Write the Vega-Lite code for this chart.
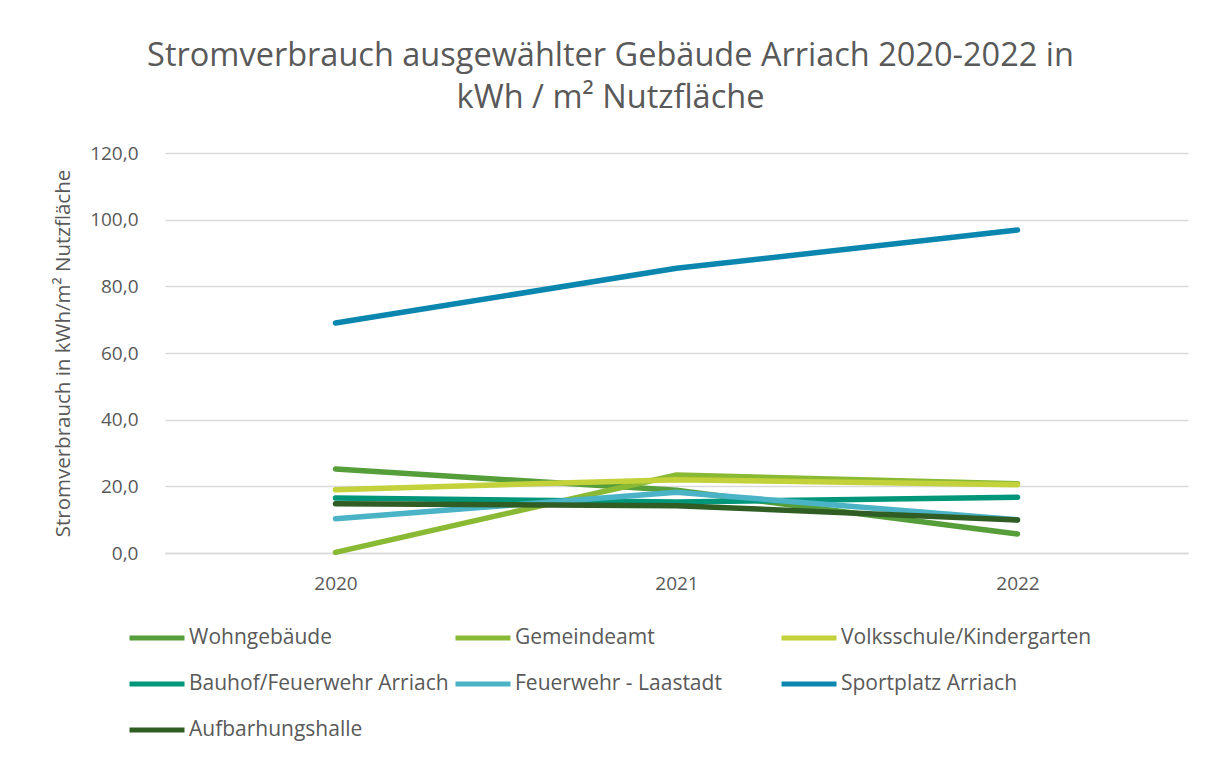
{
  "$schema": "https://vega.github.io/schema/vega-lite/v6.json",
  "width": 1023,
  "height": 400,
  "autosize": {"type": "none"},
  "padding": {"left": 165, "top": 153, "right": 25, "bottom": 205},
  "background": "white",
  "title": {
    "text": ["Stromverbrauch ausgewählter Gebäude Arriach 2020-2022 in", "kWh / m² Nutzfläche"],
    "font": "Open Sans",
    "fontSize": 32.5,
    "fontWeight": "normal",
    "color": "#595959",
    "anchor": "middle",
    "frame": "group",
    "dx": -66,
    "lineHeight": 42,
    "offset": 30
  },
  "data": {
    "values": [
      {"Jahr": "2020", "Gebäude": "Wohngebäude", "Wert": 25.2},
      {"Jahr": "2021", "Gebäude": "Wohngebäude", "Wert": 18.8},
      {"Jahr": "2022", "Gebäude": "Wohngebäude", "Wert": 5.7},
      {"Jahr": "2020", "Gebäude": "Gemeindeamt", "Wert": 0.2},
      {"Jahr": "2021", "Gebäude": "Gemeindeamt", "Wert": 23.4},
      {"Jahr": "2022", "Gebäude": "Gemeindeamt", "Wert": 20.8},
      {"Jahr": "2020", "Gebäude": "Volksschule/Kindergarten", "Wert": 19.0},
      {"Jahr": "2021", "Gebäude": "Volksschule/Kindergarten", "Wert": 22.0},
      {"Jahr": "2022", "Gebäude": "Volksschule/Kindergarten", "Wert": 20.5},
      {"Jahr": "2020", "Gebäude": "Bauhof/Feuerwehr Arriach", "Wert": 16.5},
      {"Jahr": "2021", "Gebäude": "Bauhof/Feuerwehr Arriach", "Wert": 15.3},
      {"Jahr": "2022", "Gebäude": "Bauhof/Feuerwehr Arriach", "Wert": 16.7},
      {"Jahr": "2020", "Gebäude": "Feuerwehr - Laastadt", "Wert": 10.3},
      {"Jahr": "2021", "Gebäude": "Feuerwehr - Laastadt", "Wert": 18.2},
      {"Jahr": "2022", "Gebäude": "Feuerwehr - Laastadt", "Wert": 10.0},
      {"Jahr": "2020", "Gebäude": "Sportplatz Arriach", "Wert": 69.0},
      {"Jahr": "2021", "Gebäude": "Sportplatz Arriach", "Wert": 85.4},
      {"Jahr": "2022", "Gebäude": "Sportplatz Arriach", "Wert": 96.9},
      {"Jahr": "2020", "Gebäude": "Aufbarhungshalle", "Wert": 14.8},
      {"Jahr": "2021", "Gebäude": "Aufbarhungshalle", "Wert": 14.2},
      {"Jahr": "2022", "Gebäude": "Aufbarhungshalle", "Wert": 9.9}
    ]
  },
  "mark": {"type": "line", "strokeWidth": 5.5, "strokeCap": "round", "strokeJoin": "round"},
  "encoding": {
    "x": {
      "field": "Jahr",
      "type": "ordinal",
      "scale": {"type": "point", "padding": 0.5},
      "axis": {
        "title": null,
        "labelAngle": 0,
        "labelFont": "Open Sans",
        "labelFontSize": 19,
        "labelColor": "#595959",
        "labelPadding": 21,
        "ticks": false,
        "domain": true,
        "domainColor": "#D9D9D9",
        "domainWidth": 1.5,
        "grid": false
      }
    },
    "y": {
      "field": "Wert",
      "type": "quantitative",
      "scale": {"domain": [0, 120], "nice": false},
      "axis": {
        "title": "Stromverbrauch in kWh/m² Nutzfläche",
        "titleFont": "Open Sans",
        "titleFontSize": 20.5,
        "titleFontWeight": "normal",
        "titleColor": "#595959",
        "titlePadding": 16,
        "values": [0, 20, 40, 60, 80, 100, 120],
        "labelExpr": "replace(format(datum.value, '.1f'), '.', ',')",
        "labelFont": "Open Sans",
        "labelFontSize": 19,
        "labelColor": "#595959",
        "labelPadding": 27,
        "ticks": false,
        "domain": false,
        "grid": true,
        "gridColor": "#D9D9D9",
        "gridWidth": 1.5
      }
    },
    "color": {
      "field": "Gebäude",
      "type": "nominal",
      "sort": ["Wohngebäude", "Gemeindeamt", "Volksschule/Kindergarten", "Bauhof/Feuerwehr Arriach", "Feuerwehr - Laastadt", "Sportplatz Arriach", "Aufbarhungshalle"],
      "scale": {
        "domain": ["Wohngebäude", "Gemeindeamt", "Volksschule/Kindergarten", "Bauhof/Feuerwehr Arriach", "Feuerwehr - Laastadt", "Sportplatz Arriach", "Aufbarhungshalle"],
        "range": ["#569E3A", "#8AB934", "#C3D13A", "#00967A", "#4AB3C6", "#0B86AF", "#2F5D24"]
      },
      "legend": {
        "title": null,
        "orient": "none",
        "legendX": -38,
        "legendY": 455,
        "direction": "horizontal",
        "columns": 3,
        "gridAlign": "all",
        "columnPadding": -4,
        "rowPadding": 6,
        "symbolType": "stroke",
        "symbolSize": 3025,
        "symbolStrokeWidth": 5,
        "symbolOffset": 0,
        "labelOffset": 2,
        "labelFont": "Open Sans",
        "labelFontSize": 21,
        "labelColor": "#595959",
        "labelLimit": 400
      }
    }
  },
  "config": {
    "view": {"stroke": null}
  }
}
